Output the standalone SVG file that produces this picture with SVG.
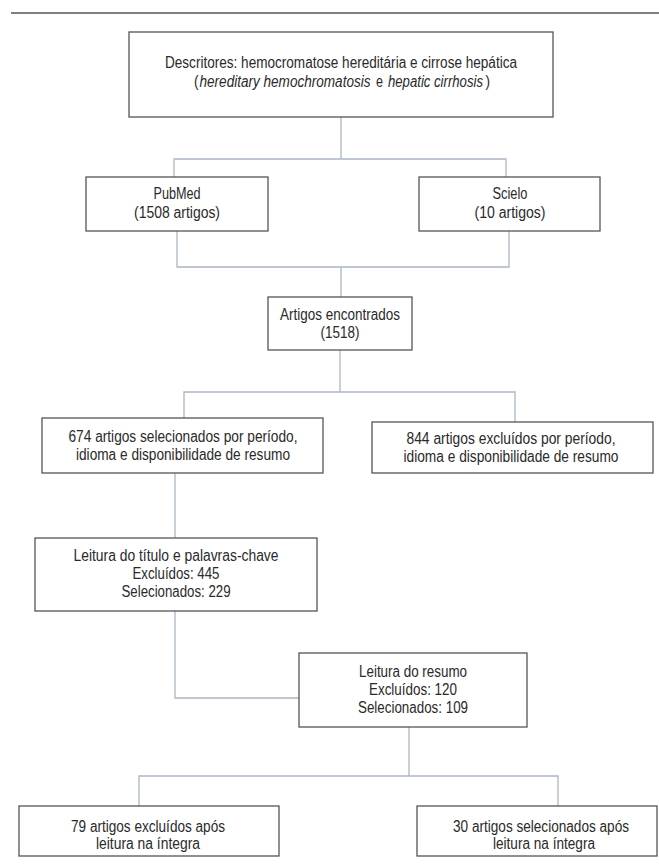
<svg xmlns="http://www.w3.org/2000/svg" width="659" height="865" viewBox="0 0 659 865">
<style>
.bg{fill:#fff}
.box{fill:#fff;stroke:#555;stroke-width:1.3}
.c{fill:none;stroke:#aab7c4;stroke-width:1.3}
text{font-family:"Liberation Sans Narrow","Liberation Sans",Arial,sans-serif;font-size:16px;fill:#2a2a2a;text-anchor:middle}
.s{text-anchor:start}
.i{font-style:italic}
</style>
<rect class="bg" x="0" y="0" width="659" height="865"/>
<line x1="11" y1="13" x2="659" y2="13" stroke="#555" stroke-width="1.6"/>
<g id="connectors">
<path class="c" d="M341 117V159M174 177V159H506V177"/>
<path class="c" d="M177 231V267H509V231M341 267V297"/>
<path class="c" d="M340 350V392M184 418V392H515V422"/>
<path class="c" d="M175 473V538"/>
<path class="c" d="M175 611V698H299"/>
<path class="c" d="M409 727V776M139 806V776H558V806"/>
</g>
<g id="descritores">
<rect class="box" x="129" y="32" width="424" height="85"/>
<text x="341" y="68" textLength="352" lengthAdjust="spacingAndGlyphs">Descritores: hemocromatose hereditária e cirrose hepática</text>
<text class="s" x="194" y="87" textLength="4.5" lengthAdjust="spacingAndGlyphs">(</text>
<text class="s i" x="199.5" y="87" textLength="171" lengthAdjust="spacingAndGlyphs">hereditary hemochromatosis</text>
<text class="s" x="376" y="87" textLength="7" lengthAdjust="spacingAndGlyphs">e</text>
<text class="s i" x="388" y="87" textLength="95" lengthAdjust="spacingAndGlyphs">hepatic cirrhosis</text>
<text class="s" x="485.5" y="87" textLength="4.5" lengthAdjust="spacingAndGlyphs">)</text>
</g>
<g id="pubmed">
<rect class="box" x="86" y="177" width="182" height="54"/>
<text x="177" y="199" textLength="47" lengthAdjust="spacingAndGlyphs">PubMed</text>
<text x="177" y="218" textLength="86" lengthAdjust="spacingAndGlyphs">(1508 artigos)</text>
</g>
<g id="scielo">
<rect class="box" x="419" y="177" width="181" height="54"/>
<text x="510" y="199" textLength="35" lengthAdjust="spacingAndGlyphs">Scielo</text>
<text x="510" y="218" textLength="71" lengthAdjust="spacingAndGlyphs">(10 artigos)</text>
</g>
<g id="artigos">
<rect class="box" x="268" y="297" width="144" height="53"/>
<text x="340" y="320" textLength="120" lengthAdjust="spacingAndGlyphs">Artigos encontrados</text>
<text x="340" y="338" textLength="39" lengthAdjust="spacingAndGlyphs">(1518)</text>
</g>
<g id="selecionados674">
<rect class="box" x="42" y="418" width="281" height="55"/>
<text x="183" y="442" textLength="229" lengthAdjust="spacingAndGlyphs">674 artigos selecionados por período,</text>
<text x="183" y="460" textLength="214" lengthAdjust="spacingAndGlyphs">idioma e disponibilidade de resumo</text>
</g>
<g id="excluidos844">
<rect class="box" x="372" y="422" width="281" height="51"/>
<text x="511" y="444" textLength="209" lengthAdjust="spacingAndGlyphs">844 artigos excluídos por período,</text>
<text x="511" y="462" textLength="215" lengthAdjust="spacingAndGlyphs">idioma e disponibilidade de resumo</text>
</g>
<g id="leitura-titulo">
<rect class="box" x="35" y="538" width="282" height="73"/>
<text x="176" y="561" textLength="205" lengthAdjust="spacingAndGlyphs">Leitura do título e palavras-chave</text>
<text x="176" y="579" textLength="87" lengthAdjust="spacingAndGlyphs">Excluídos: 445</text>
<text x="176" y="597" textLength="109" lengthAdjust="spacingAndGlyphs">Selecionados: 229</text>
</g>
<g id="leitura-resumo">
<rect class="box" x="299" y="653" width="228" height="74"/>
<text x="413" y="677" textLength="108" lengthAdjust="spacingAndGlyphs">Leitura do resumo</text>
<text x="413" y="695" textLength="88" lengthAdjust="spacingAndGlyphs">Excluídos: 120</text>
<text x="413" y="713" textLength="110" lengthAdjust="spacingAndGlyphs">Selecionados: 109</text>
</g>
<g id="excluidos79">
<rect class="box" x="19" y="806" width="260" height="50"/>
<text x="148" y="832" textLength="154" lengthAdjust="spacingAndGlyphs">79 artigos excluídos após</text>
<text x="148" y="849" textLength="104" lengthAdjust="spacingAndGlyphs">leitura na íntegra</text>
</g>
<g id="selecionados30">
<rect class="box" x="417" y="806" width="240" height="50"/>
<text x="541" y="832" textLength="176" lengthAdjust="spacingAndGlyphs">30 artigos selecionados após</text>
<text x="544" y="849" textLength="102" lengthAdjust="spacingAndGlyphs">leitura na íntegra</text>
</g>
</svg>
